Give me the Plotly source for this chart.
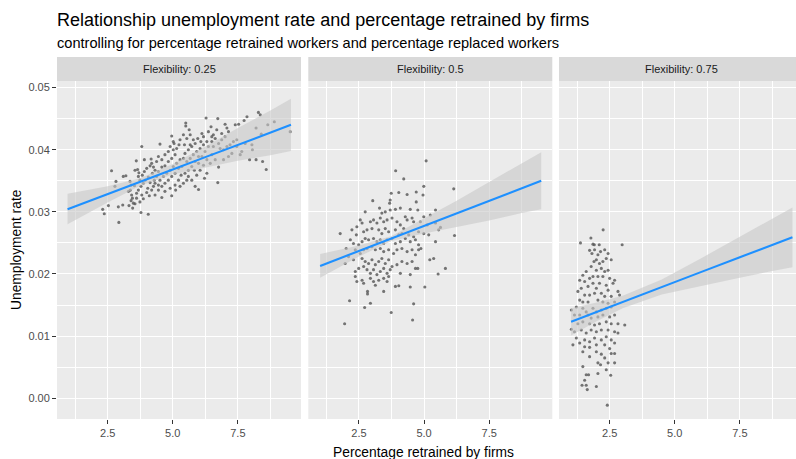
import plotly.graph_objects as go

# Observations per flexibility level: (percentage retrained by firms, unemployment rate)
obs_flex_025 = [
    (2.31, 0.0304), (2.37, 0.0297), (2.53, 0.0310), (2.65, 0.0366), (2.82, 0.0349), (2.78, 0.0341),
    (2.91, 0.0308), (2.93, 0.0283), (3.08, 0.0311), (3.10, 0.0357), (3.20, 0.0358), (3.32, 0.0310),
    (3.40, 0.0343), (3.37, 0.0335), (3.42, 0.0327), (3.45, 0.0322), (3.40, 0.0318), (3.49, 0.0314),
    (3.46, 0.0306), (3.30, 0.0333), (3.36, 0.0349),
    (3.78, 0.0299), (4.06, 0.0296), (3.81, 0.0405), (3.60, 0.0382), (3.65, 0.0368), (3.55, 0.0367),
    (3.68, 0.0357), (3.74, 0.0351), (3.83, 0.0359), (3.91, 0.0365), (4.00, 0.0370), (4.13, 0.0374),
    (4.19, 0.0378), (4.17, 0.0385), (4.06, 0.0356), (3.94, 0.0351), (3.87, 0.0346), (3.78, 0.0341),
    (3.68, 0.0335), (3.61, 0.0330), (3.81, 0.0327), (4.00, 0.0331), (4.10, 0.0326), (4.19, 0.0335),
    (4.26, 0.0341), (4.13, 0.0347), (4.29, 0.0351), (4.22, 0.0362), (4.32, 0.0367), (4.26, 0.0372),
    (4.32, 0.0327), (3.61, 0.0322), (3.74, 0.0316), (3.55, 0.0313), (3.87, 0.0321), (4.04, 0.0338),
    (3.91, 0.0384), (3.70, 0.0363), (3.53, 0.0342),
    (4.51, 0.0409), (4.96, 0.0422), (5.05, 0.0410), (4.38, 0.0381), (4.45, 0.0389), (4.58, 0.0384),
    (4.70, 0.0392), (4.83, 0.0397), (4.90, 0.0405), (5.02, 0.0400), (5.15, 0.0402), (5.24, 0.0408),
    (5.28, 0.0416), (5.09, 0.0392), (4.96, 0.0386), (4.83, 0.0381), (4.70, 0.0374), (4.58, 0.0372),
    (4.45, 0.0365), (4.38, 0.0357), (4.51, 0.0351), (4.64, 0.0357), (4.77, 0.0362), (4.90, 0.0367),
    (5.02, 0.0373), (5.15, 0.0378), (5.28, 0.0384), (5.22, 0.0370), (5.09, 0.0362), (4.96, 0.0357),
    (4.83, 0.0351), (4.70, 0.0346), (4.58, 0.0341), (4.45, 0.0335), (4.58, 0.0323), (4.96, 0.0326),
    (4.90, 0.0338), (5.09, 0.0343), (5.22, 0.0351), (5.32, 0.0359), (5.35, 0.0373), (5.11, 0.0335),
    (5.28, 0.0341), (4.70, 0.0333), (4.45, 0.0343), (4.32, 0.0346), (5.02, 0.0413),
    (5.50, 0.0443), (5.50, 0.0438), (5.41, 0.0424), (5.54, 0.0418), (5.67, 0.0424), (5.79, 0.0416),
    (5.86, 0.0410), (5.73, 0.0405), (5.60, 0.0400), (5.47, 0.0394), (5.41, 0.0386), (5.54, 0.0381),
    (5.67, 0.0386), (5.79, 0.0392), (5.92, 0.0397), (6.05, 0.0402), (6.18, 0.0408), (6.31, 0.0413),
    (6.12, 0.0426), (6.18, 0.0421), (6.37, 0.0429), (6.50, 0.0421), (6.28, 0.0451), (5.99, 0.0389),
    (5.86, 0.0381), (5.73, 0.0373), (5.60, 0.0367), (5.47, 0.0362), (5.60, 0.0357), (5.73, 0.0351),
    (5.86, 0.0341), (5.99, 0.0336), (5.92, 0.0359), (6.05, 0.0367), (6.18, 0.0375), (6.31, 0.0384),
    (6.24, 0.0397), (6.12, 0.0389), (5.99, 0.0378), (5.83, 0.0367), (5.54, 0.0351), (5.41, 0.0346),
    (6.31, 0.0362), (6.22, 0.0354), (5.67, 0.0408), (5.45, 0.0408), (6.37, 0.0405), (5.96, 0.0418),
    (6.08, 0.0413), (5.63, 0.0432),
    (6.73, 0.0450), (7.01, 0.0441), (7.08, 0.0435), (7.14, 0.0429), (7.40, 0.0440), (7.53, 0.0441),
    (6.50, 0.0413), (6.63, 0.0418), (6.76, 0.0410), (6.88, 0.0416), (7.01, 0.0421), (6.82, 0.0402),
    (6.95, 0.0400), (7.08, 0.0405), (7.20, 0.0408), (7.33, 0.0413), (7.46, 0.0416), (7.59, 0.0392),
    (7.65, 0.0397), (6.95, 0.0384), (6.76, 0.0372), (6.73, 0.0347), (6.50, 0.0392), (6.63, 0.0384),
    (6.44, 0.0378), (6.56, 0.0405), (6.88, 0.0426), (6.69, 0.0432), (6.47, 0.0437), (7.27, 0.0394),
    (7.14, 0.0389), (7.46, 0.0405), (6.56, 0.0424),
    (7.85, 0.0453), (7.74, 0.0447), (7.78, 0.0410), (8.29, 0.0460), (8.36, 0.0456), (8.65, 0.0440),
    (8.90, 0.0445), (8.04, 0.0408), (8.06, 0.0400), (7.95, 0.0384), (8.20, 0.0384), (8.45, 0.0381),
    (8.59, 0.0368), (9.51, 0.0429), (8.20, 0.0435), (8.40, 0.0425),
]

obs_flex_05 = [
    (5.08, 0.0382), (3.91, 0.0366), (4.22, 0.0353), (6.14, 0.0337), (4.99, 0.0341), (4.70, 0.0332),
    (4.96, 0.0327), (4.35, 0.0328), (4.03, 0.0331), (3.74, 0.0330), (3.70, 0.0319), (3.68, 0.0314),
    (3.03, 0.0318), (2.74, 0.0300), (3.29, 0.0306), (3.38, 0.0298), (3.51, 0.0300), (3.70, 0.0303),
    (3.90, 0.0304), (4.09, 0.0306), (4.47, 0.0304), (4.76, 0.0303), (4.70, 0.0316), (4.28, 0.0292),
    (4.35, 0.0287), (4.54, 0.0290), (4.99, 0.0292), (5.44, 0.0303), (5.24, 0.0295),
    (2.55, 0.0287), (2.62, 0.0282), (2.94, 0.0284), (3.06, 0.0287), (3.19, 0.0282), (3.32, 0.0290),
    (3.45, 0.0284), (3.58, 0.0287), (3.77, 0.0290), (3.96, 0.0284), (4.09, 0.0279), (4.22, 0.0273),
    (4.60, 0.0284), (4.86, 0.0284), (5.12, 0.0279), (5.44, 0.0282), (5.63, 0.0275), (5.56, 0.0271),
    (1.78, 0.0265), (2.23, 0.0271), (2.42, 0.0276), (2.40, 0.0263), (2.68, 0.0268), (2.81, 0.0271),
    (3.00, 0.0273), (3.26, 0.0271), (3.38, 0.0265), (3.51, 0.0273), (3.64, 0.0268), (3.90, 0.0271),
    (4.03, 0.0263), (4.15, 0.0265), (4.41, 0.0263), (4.60, 0.0260), (4.79, 0.0268), (4.99, 0.0265),
    (5.18, 0.0263), (6.17, 0.0262),
    (2.17, 0.0255), (2.29, 0.0249), (2.49, 0.0247), (2.62, 0.0252), (2.74, 0.0257), (2.87, 0.0255),
    (3.06, 0.0257), (3.19, 0.0252), (3.32, 0.0255), (3.45, 0.0249), (3.58, 0.0255), (3.77, 0.0257),
    (3.90, 0.0249), (4.09, 0.0252), (4.28, 0.0257), (4.47, 0.0252), (4.67, 0.0255), (4.79, 0.0247),
    (4.88, 0.0241), (5.44, 0.0252), (2.01, 0.0241), (2.36, 0.0239), (2.55, 0.0233), (2.68, 0.0239),
    (2.81, 0.0241), (3.00, 0.0244), (3.13, 0.0239), (3.32, 0.0241), (3.45, 0.0236), (3.64, 0.0239),
    (3.83, 0.0233), (3.96, 0.0239), (4.15, 0.0241), (4.35, 0.0236), (4.54, 0.0239), (4.67, 0.0231),
    (4.79, 0.0239), (5.22, 0.0223), (5.37, 0.0225),
    (1.97, 0.0217), (2.10, 0.0228), (2.29, 0.0223), (2.62, 0.0225), (2.74, 0.0220), (2.87, 0.0217),
    (3.00, 0.0223), (3.13, 0.0215), (3.26, 0.0220), (3.38, 0.0225), (3.51, 0.0217), (3.64, 0.0223),
    (3.77, 0.0212), (3.96, 0.0215), (4.15, 0.0220), (4.35, 0.0217), (4.54, 0.0220), (4.67, 0.0209),
    (2.36, 0.0204), (2.49, 0.0209), (2.68, 0.0212), (2.81, 0.0207), (2.94, 0.0201), (3.06, 0.0207),
    (3.19, 0.0199), (3.32, 0.0204), (3.45, 0.0209), (3.58, 0.0201), (3.70, 0.0207), (4.09, 0.0201),
    (4.47, 0.0199), (4.76, 0.0209), (5.54, 0.0200), (5.82, 0.0209),
    (2.36, 0.0196), (2.42, 0.0188), (2.62, 0.0190), (2.68, 0.0185), (2.94, 0.0193), (3.06, 0.0188),
    (3.13, 0.0182), (3.26, 0.0190), (3.45, 0.0193), (3.58, 0.0188), (3.64, 0.0196), (3.90, 0.0180),
    (4.03, 0.0181), (4.47, 0.0179), (5.03, 0.0179), (2.83, 0.0172), (2.83, 0.0168), (3.45, 0.0172),
    (2.14, 0.0157), (2.94, 0.0153), (2.72, 0.0146), (3.74, 0.0138), (4.60, 0.0152), (4.56, 0.0126),
    (1.95, 0.0120),
]

obs_flex_075 = [
    (1.38, 0.0250), (1.78, 0.0258), (1.86, 0.0248), (1.91, 0.0247), (2.10, 0.0247), (2.25, 0.0271),
    (2.98, 0.0247),
    (1.73, 0.0238), (1.82, 0.0233), (1.92, 0.0239), (2.05, 0.0231), (2.15, 0.0236), (2.31, 0.0239),
    (2.44, 0.0233), (1.99, 0.0223), (2.11, 0.0217), (1.90, 0.0220), (2.24, 0.0220), (2.37, 0.0225),
    (2.56, 0.0223), (1.79, 0.0212), (1.99, 0.0206), (2.18, 0.0209), (2.31, 0.0204), (2.44, 0.0206),
    (1.60, 0.0204), (1.47, 0.0198), (1.35, 0.0190), (1.54, 0.0188), (1.73, 0.0193), (1.86, 0.0196),
    (2.05, 0.0196), (2.24, 0.0196), (2.50, 0.0193), (2.69, 0.0190), (2.63, 0.0185), (1.67, 0.0180),
    (1.28, 0.0172), (1.41, 0.0177), (1.86, 0.0185), (1.99, 0.0177), (2.11, 0.0185), (2.37, 0.0182),
    (2.44, 0.0174), (2.82, 0.0172), (2.88, 0.0166), (1.54, 0.0166), (1.73, 0.0166), (1.92, 0.0169),
    (2.18, 0.0169), (2.31, 0.0164), (2.56, 0.0164), (1.35, 0.0158), (1.47, 0.0155), (1.67, 0.0155),
    (2.05, 0.0158), (2.24, 0.0155), (2.44, 0.0153), (2.69, 0.0155), (1.22, 0.0147), (1.03, 0.0142),
    (1.47, 0.0145), (1.60, 0.0139), (1.86, 0.0145), (1.99, 0.0139), (2.18, 0.0142), (2.37, 0.0145),
    (2.56, 0.0147), (1.15, 0.0134), (1.35, 0.0134), (1.67, 0.0134), (1.79, 0.0129), (2.05, 0.0131),
    (2.24, 0.0134), (2.50, 0.0131), (2.69, 0.0134), (3.08, 0.0118), (1.03, 0.0111), (1.28, 0.0120),
    (1.47, 0.0123), (1.73, 0.0120), (1.92, 0.0118), (2.11, 0.0120), (2.37, 0.0123), (2.56, 0.0120),
    (2.82, 0.0120), (1.15, 0.0107), (1.41, 0.0110), (1.60, 0.0105), (1.79, 0.0110), (1.99, 0.0107),
    (2.18, 0.0110), (2.44, 0.0110), (2.69, 0.0107), (2.82, 0.0105), (1.22, 0.0097), (1.35, 0.0089),
    (1.54, 0.0094), (1.73, 0.0091), (1.92, 0.0097), (2.18, 0.0094), (2.37, 0.0099), (2.56, 0.0094),
    (2.69, 0.0089), (1.09, 0.0086), (1.54, 0.0083), (1.73, 0.0082), (1.99, 0.0086), (2.31, 0.0086),
    (2.50, 0.0080), (1.47, 0.0075), (1.99, 0.0075), (2.18, 0.0071), (2.69, 0.0072), (1.73, 0.0067),
    (2.31, 0.0065), (2.56, 0.0072), (2.05, 0.0057), (2.15, 0.0054), (2.44, 0.0057), (2.69, 0.0057),
    (1.47, 0.0051), (1.60, 0.0038), (1.69, 0.0038), (1.54, 0.0029), (1.60, 0.0021), (1.44, 0.0021),
    (2.05, 0.0040), (2.37, 0.0046), (2.54, 0.0037), (1.99, 0.0019), (1.64, 0.0014), (2.41, -0.0011),
]

# Linear fit and 95% confidence band per panel, read at these x positions
fit_x_025 = [0.96, 2.5, 3.75, 5.0, 6.25, 7.5, 8.75, 9.54]
fit_y_025 = [0.0304, 0.0328, 0.0348, 0.0368, 0.0388, 0.0408, 0.0427, 0.0440]
band_lo_025 = [0.0280, 0.0315, 0.0342, 0.0360, 0.0371, 0.0382, 0.0391, 0.0398]
band_hi_025 = [0.0329, 0.0341, 0.0354, 0.0377, 0.0405, 0.0435, 0.0463, 0.0482]

fit_x_05 = [1.01, 2.5, 3.75, 5.0, 6.25, 7.5, 8.75, 9.5]
fit_y_05 = [0.0213, 0.0237, 0.0257, 0.0277, 0.0297, 0.0317, 0.0338, 0.0350]
band_lo_05 = [0.0194, 0.0228, 0.0253, 0.0265, 0.0276, 0.0286, 0.0298, 0.0304]
band_hi_05 = [0.0232, 0.0246, 0.0261, 0.0289, 0.0318, 0.0348, 0.0378, 0.0396]

fit_x_075 = [1.02, 2.0, 3.0, 4.5, 6.0, 7.5, 8.75, 9.52]
fit_y_075 = [0.0123, 0.0139, 0.0155, 0.0179, 0.0203, 0.0227, 0.0247, 0.0259]
band_lo_075 = [0.0101, 0.0124, 0.0145, 0.0167, 0.0181, 0.0194, 0.0205, 0.0211]
band_hi_075 = [0.0145, 0.0154, 0.0165, 0.0191, 0.0225, 0.0260, 0.0289, 0.0307]

facet_labels = ["Flexibility: 0.25", "Flexibility: 0.5", "Flexibility: 0.75"]
x_ticks = [2.5, 5.0, 7.5]
x_minor = [1.25, 3.75, 6.25, 8.75]
y_ticks = [0.00, 0.01, 0.02, 0.03, 0.04, 0.05]
y_minor = [0.005, 0.015, 0.025, 0.035, 0.045]

panels = [
    (obs_flex_025, fit_x_025, fit_y_025, band_lo_025, band_hi_025),
    (obs_flex_05, fit_x_05, fit_y_05, band_lo_05, band_hi_05),
    (obs_flex_075, fit_x_075, fit_y_075, band_lo_075, band_hi_075),
]

W, H = 796, 459
ML, MR, MT, MB = 57, 0, 81, 40
PW = W - ML - MR
PH = H - MT - MB

# panel pixel extents (third panel runs past the right edge of the page)
panel_px = [(57, 301), (308.3, 552.3), (559, 796)]
x_lo = 0.555
px_per_unit = 244 / 9.37
strip_h = 24

FONT = "Liberation Sans, Arial, sans-serif"

fig = go.Figure()
shapes = []
annotations = []

for i, (obs, fx, fy, lo, hi) in enumerate(panels):
    sfx = "" if i == 0 else str(i + 1)
    xa, ya = "x" + sfx, "y" + sfx
    px, py = zip(*obs)
    fig.add_trace(go.Scatter(
        x=list(px), y=list(py), mode="markers", xaxis=xa, yaxis=ya,
        marker=dict(size=3.1, color="rgba(85,85,85,0.8)", line=dict(width=0)),
        hoverinfo="skip"))
    fig.add_trace(go.Scatter(
        x=fx + fx[::-1], y=hi + lo[::-1], mode="lines", fill="toself",
        fillcolor="rgba(200,200,200,0.6)", line=dict(width=0), xaxis=xa, yaxis=ya,
        hoverinfo="skip"))
    fig.add_trace(go.Scatter(
        x=fx, y=fy, mode="lines", line=dict(color="#1E90FF", width=2.1),
        xaxis=xa, yaxis=ya, hoverinfo="skip"))

    x0p, x1p = panel_px[i]
    d0 = (x0p - ML) / PW
    d1 = min((x1p - ML) / PW, 1.0)
    x_hi = x_lo + (x1p - x0p) / px_per_unit
    xaxis = dict(
        domain=[d0, d1], range=[x_lo, x_hi], anchor=ya,
        tickvals=x_ticks, ticktext=[f"{v:.1f}" for v in x_ticks],
        ticks="outside", ticklen=4, tickwidth=1, tickcolor="#333333",
        tickfont=dict(family=FONT, size=11, color="#4D4D4D"),
        showgrid=True, gridcolor="white", gridwidth=1.1,
        minor=dict(tickvals=x_minor, showgrid=True, gridcolor="white", gridwidth=0.55, ticks=""),
        zeroline=False, showline=False,
    )
    yaxis = dict(
        domain=[0, 1], range=[-0.00333, 0.05105], anchor=xa,
        tickvals=y_ticks, ticktext=[f"{v:.2f}" for v in y_ticks],
        showticklabels=(i == 0), ticks="outside" if i == 0 else "",
        ticklen=4, tickwidth=1, tickcolor="#333333",
        tickfont=dict(family=FONT, size=11, color="#4D4D4D"),
        showgrid=True, gridcolor="white", gridwidth=1.1,
        minor=dict(tickvals=y_minor, showgrid=True, gridcolor="white", gridwidth=0.55, ticks=""),
        zeroline=False, showline=False,
    )
    fig.update_layout(**{"xaxis" + sfx: xaxis, "yaxis" + sfx: yaxis})

    # facet strip
    strip_right = (x1p - ML) / PW if i < 2 else (803 - ML) / PW
    shapes.append(dict(type="rect", xref="paper", yref="paper",
                       x0=d0, x1=strip_right, y0=1, y1=1 + strip_h / PH,
                       fillcolor="#D9D9D9", line=dict(width=0), layer="below"))
    annotations.append(dict(text=facet_labels[i], xref="paper", yref="paper",
                            x=(d0 + strip_right) / 2, y=1 + strip_h / 2 / PH,
                            xanchor="center", yanchor="middle", showarrow=False,
                            font=dict(family=FONT, size=11, color="#1A1A1A")))

annotations += [
    dict(text="Relationship unemployment rate and percentage retrained by firms",
         xref="paper", yref="paper", x=(55 - ML) / PW, y=1 + (MT - 20) / PH,
         xanchor="left", yanchor="middle", showarrow=False,
         font=dict(family=FONT, size=18, color="black")),
    dict(text="controlling for percentage retrained workers and percentage replaced workers",
         xref="paper", yref="paper", x=(55 - ML) / PW, y=1 + (MT - 43) / PH,
         xanchor="left", yanchor="middle", showarrow=False,
         font=dict(family=FONT, size=14.6, color="black")),
    dict(text="Unemployment rate", xref="paper", yref="paper",
         x=(16 - ML) / PW, y=0.5, textangle=-90, xanchor="center", yanchor="middle",
         showarrow=False, font=dict(family=FONT, size=13.8, color="black")),
    dict(text="Percentage retrained by firms", xref="paper", yref="paper",
         x=(423 - ML) / PW, y=-(452 - (H - MB)) / PH, xanchor="center", yanchor="middle",
         showarrow=False, font=dict(family=FONT, size=13.8, color="black")),
]

fig.update_layout(
    width=W, height=H, margin=dict(l=ML, r=MR, t=MT, b=MB),
    paper_bgcolor="white", plot_bgcolor="#EBEBEB", showlegend=False,
    shapes=shapes, annotations=annotations,
)

fig.write_html("out.html")
